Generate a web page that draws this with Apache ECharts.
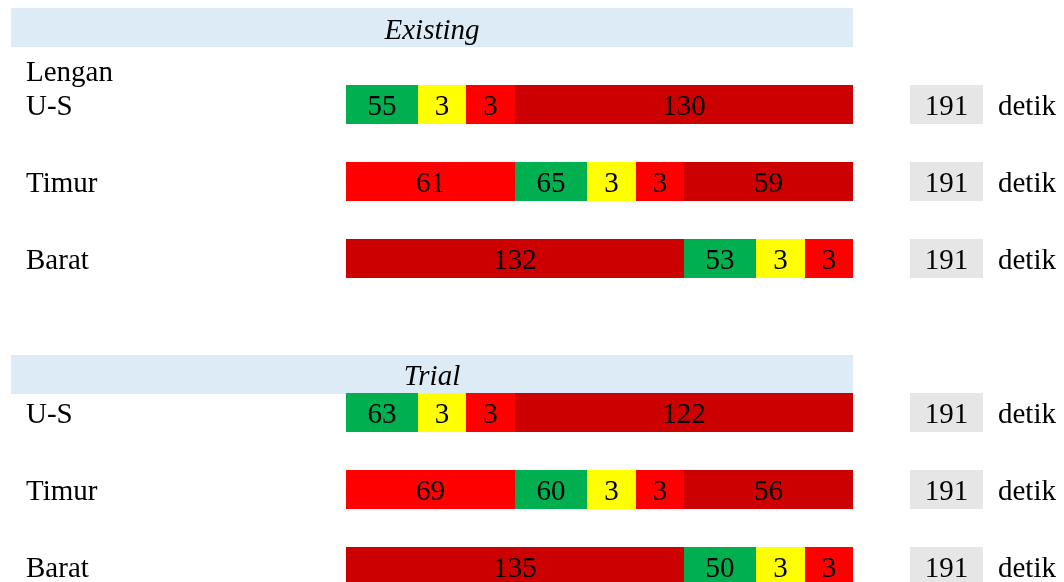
<!DOCTYPE html>
<html>
<head>
<meta charset="utf-8">
<script src="https://cdn.jsdelivr.net/npm/echarts@6/dist/echarts.min.js"></script>
<style>
  html, body { margin: 0; padding: 0; background: #fff; }
  #chart { width: 1064px; height: 582px; }
</style>
</head>
<body>
<div id="chart"></div>
<script>
// data
const lengan = ['U-S', 'Timur', 'Barat'];
const judul = ['Existing', 'Trial'];
const existingUS = [55, 3, 3, 130];
const existingTimur = [61, 65, 3, 3, 59];
const existingBarat = [132, 53, 3, 3];
const trialUS = [63, 3, 3, 122];
const trialTimur = [69, 60, 3, 3, 56];
const trialBarat = [135, 50, 3, 3];
// signal state of each segment, in order
const fasaUS = ['hijau', 'kuning', 'merah', 'merahTua'];
const fasaTimur = ['merah', 'hijau', 'kuning', 'merah', 'merahTua'];
const fasaBarat = ['merahTua', 'hijau', 'kuning', 'merah'];
const satuan = 'detik';

const warna = {
  hijau: '#00B050',
  kuning: '#FFFF00',
  merah: '#FF0000',
  merahTua: '#CC0000'
};
const FONT = '"Liberation Serif", "Times New Roman", serif';
const SIZE = 29;

// column widths of one phase block: green, yellow, all-red
const BLOK = 3.5;
const colWidth = { hijau: 1.5, kuning: 1, allRed: 1 };

// build segments [start, end, row, value, state]
function segmentsFor(values, fasa, r, rowY) {
  const out = [];
  const g = fasa.indexOf('hijau');
  let x = 0;
  fasa.forEach((f, i) => {
    let w;
    if (i < g) w = r * BLOK;
    else if (i === g) w = colWidth.hijau;
    else if (i === g + 1) w = colWidth.kuning;
    else if (i === g + 2) w = colWidth.allRed;
    else w = (2 - r) * BLOK;
    out.push([x, x + w, rowY, values[i], f]);
    x += w;
  });
  return out;
}

const groups = [
  { rows: [existingUS, existingTimur, existingBarat], y0: 0, head: -1 },
  { rows: [trialUS, trialTimur, trialBarat], y0: 4, head: 3.5 }
];
const fasaAll = [fasaUS, fasaTimur, fasaBarat];

const barData = [];
const totalData = [];
const labelData = [];
groups.forEach(gr => {
  gr.rows.forEach((vals, r) => {
    const y = gr.y0 + r;
    segmentsFor(vals, fasaAll[r], r, y).forEach(s => barData.push(s));
    totalData.push([y, vals.reduce((a, b) => a + b, 0)]);
    labelData.push([y, lengan[r]]);
  });
});

const headData = groups.map((gr, i) => [gr.head, judul[i]]);

const chart = echarts.init(document.getElementById('chart'));

const TXT_DY = 3;

chart.setOption({
  animation: false,
  grid: { left: 345.5, right: 211, top: 4.4, bottom: 0.1 },
  xAxis: { type: 'value', min: 0, max: 10.5, show: false },
  yAxis: { type: 'value', min: -1.3, max: 6.2, inverse: true, show: false },
  series: [
    {
      // header bands
      type: 'custom',
      clip: false,
      data: headData,
      renderItem: (params, api) => {
        const y = api.value(0);
        const a = api.coord([-6.92, y]);
        const b = api.coord([10.5, y]);
        const h = api.size([0, 0.5])[1];
        const mid = api.coord([(-6.92 + 10.5) / 2, y]);
        return {
          type: 'group',
          children: [
            { type: 'rect', shape: { x: Math.round(a[0]), y: Math.round(a[1] - h / 2), width: Math.round(b[0] - a[0]), height: Math.round(h) }, style: { fill: '#DDEBF7' } },
            { type: 'text', style: { text: headData[params.dataIndex][1], x: mid[0], y: mid[1] + 3.5, align: 'center', verticalAlign: 'middle', font: 'italic ' + SIZE + 'px ' + FONT, fill: '#000' } }
          ]
        };
      }
    },
    {
      // stacked phase segments
      type: 'custom',
      clip: false,
      data: barData,
      renderItem: (params, api) => {
        const d = barData[params.dataIndex];
        const a = api.coord([d[0], d[2]]);
        const b = api.coord([d[1], d[2]]);
        const h = api.size([0, 0.5])[1];
        const x0 = Math.round(a[0]), x1 = Math.round(b[0]);
        const y0 = Math.round(a[1] - h / 2);
        return {
          type: 'group',
          children: [
            { type: 'rect', shape: { x: x0, y: y0, width: x1 - x0, height: Math.round(h) }, style: { fill: warna[d[4]] } },
            { type: 'text', style: { text: String(d[3]), x: (x0 + x1) / 2, y: a[1] + TXT_DY, align: 'center', verticalAlign: 'middle', font: SIZE + 'px ' + FONT, fill: '#000' } }
          ]
        };
      }
    },
    {
      // cycle totals
      type: 'custom',
      clip: false,
      data: totalData,
      renderItem: (params, api) => {
        const y = api.value(0);
        const a = api.coord([11.68, y]);
        const b = api.coord([13.19, y]);
        const t = api.coord([13.5, y]);
        const h = api.size([0, 0.5])[1];
        return {
          type: 'group',
          children: [
            { type: 'rect', shape: { x: Math.round(a[0]), y: Math.round(a[1] - h / 2), width: Math.round(b[0] - a[0]), height: Math.round(h) }, style: { fill: '#E7E6E6' } },
            { type: 'text', style: { text: String(api.value(1)), x: (a[0] + b[0]) / 2, y: a[1] + TXT_DY, align: 'center', verticalAlign: 'middle', font: SIZE + 'px ' + FONT, fill: '#000' } },
            { type: 'text', style: { text: satuan, x: t[0], y: t[1] + TXT_DY, align: 'left', verticalAlign: 'middle', font: SIZE + 'px ' + FONT, fill: '#000' } }
          ]
        };
      }
    },
    {
      // row labels
      type: 'custom',
      clip: false,
      data: labelData,
      renderItem: (params, api) => {
        const y = api.value(0);
        const p = api.coord([-6.61, y]);
        const children = [
          { type: 'text', style: { text: labelData[params.dataIndex][1], x: p[0], y: p[1] + TXT_DY, align: 'left', verticalAlign: 'middle', font: SIZE + 'px ' + FONT, fill: '#000' } }
        ];
        if (params.dataIndex === 0) {
          const q = api.coord([-6.61, -0.435]);
          children.push({ type: 'text', style: { text: 'Lengan', x: q[0], y: q[1] + 2, align: 'left', verticalAlign: 'middle', font: SIZE + 'px ' + FONT, fill: '#000' } });
        }
        return { type: 'group', children };
      }
    }
  ]
});
</script>
</body>
</html>
